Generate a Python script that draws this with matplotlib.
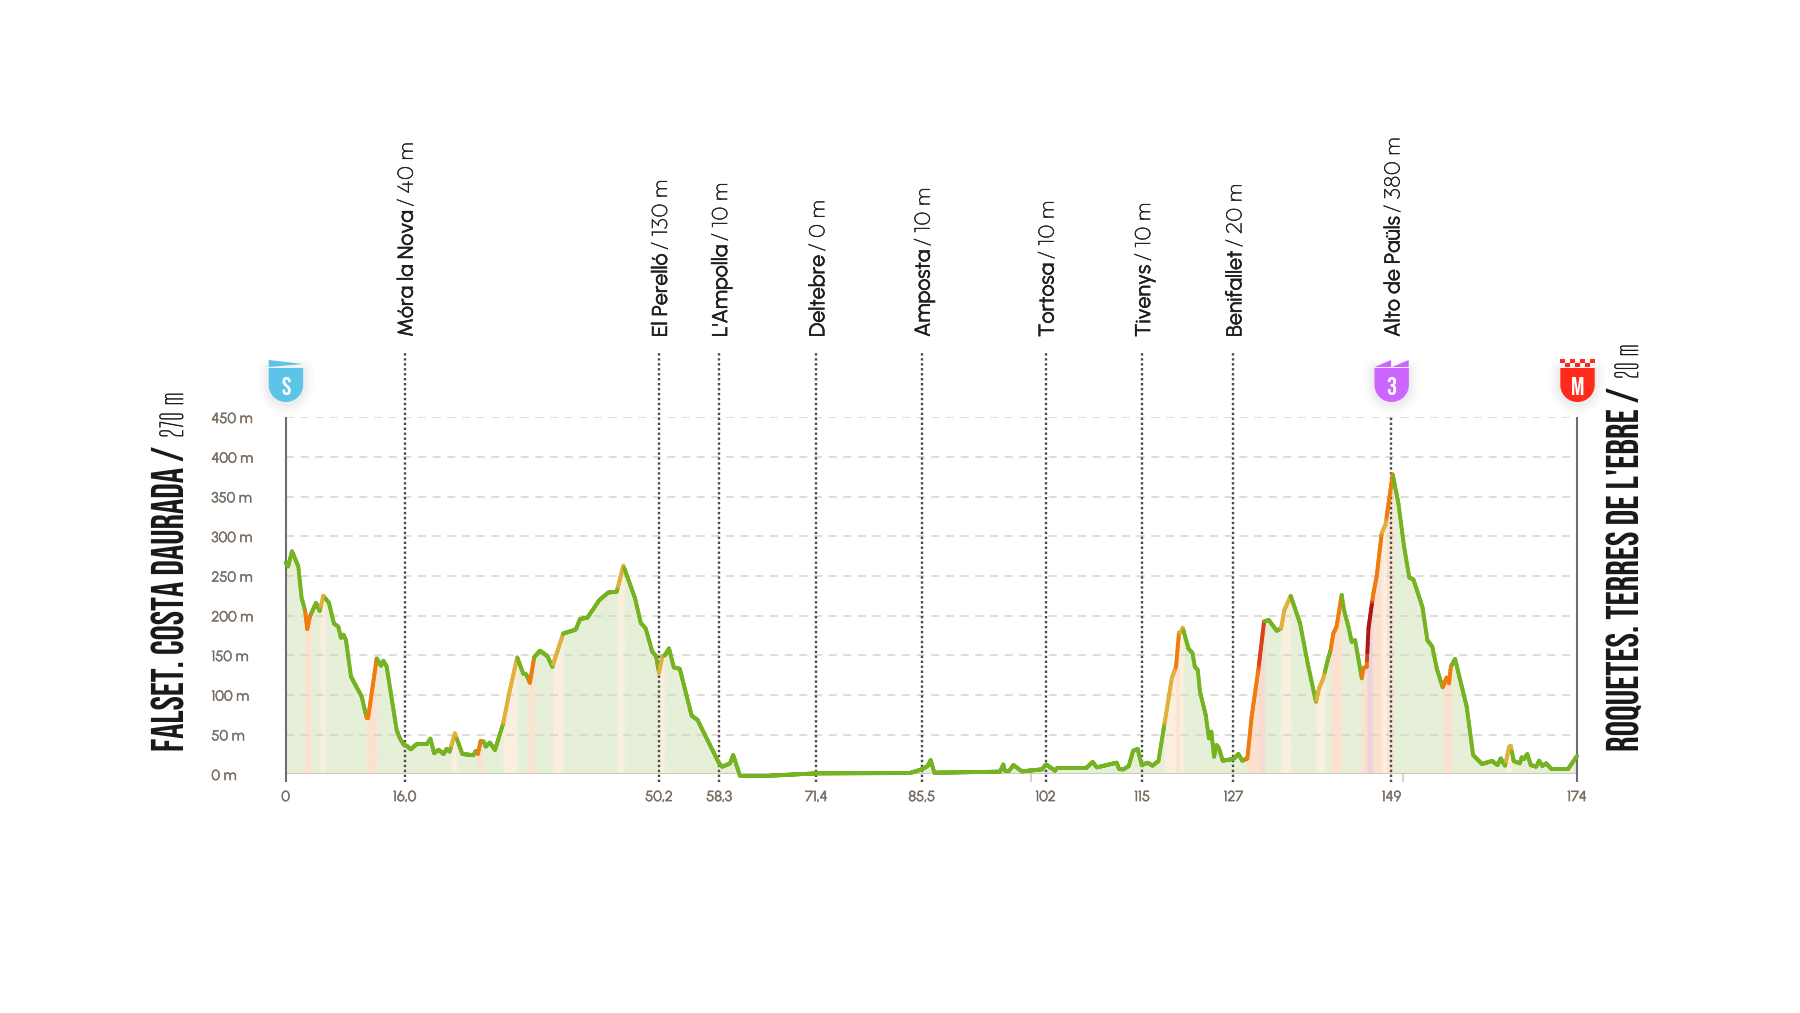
import numpy as np
import matplotlib
matplotlib.use('Agg')
import matplotlib.pyplot as plt
from matplotlib.collections import LineCollection
from matplotlib.colors import to_rgb
from matplotlib.patches import Polygon
from matplotlib.patheffects import AbstractPathEffect, withStroke
from matplotlib.transforms import Affine2D

# profile, km and metres
km = [0, .31, .85, 1.7, 2.15, 2.6, 2.91, 3.27, 4.08, 4.58, 5.07, 5.83, 6.5, 7.09, 7.45, 7.77, 8.12, 8.8, 10.24, 10.91,
      11.1, 12.26, 12.84, 13.16, 13.6, 14.95, 15.4, 15.94, 16.3, 16.84, 17.65, 19, 19.5, 20, 20.6, 21.25, 21.7, 22.1,
      22.8, 23.8, 25.3, 25.6, 25.9, 26.27, 26.7, 26.95, 27.5, 28.2, 29.3, 30.2, 31.2, 32, 32.4, 32.9, 33.5, 34.27,
      35.26, 35.93, 37.4, 38.5, 39.1, 39.66, 40.65, 42.27, 43.5, 44.6, 45.5, 47.07, 47.84, 48.5, 49.4, 49.9, 50.3,
      50.76, 51.1, 51.65, 52.3, 53.1, 54.7, 55.5, 58.4, 58.84, 59.87, 60.3, 61.2, 65.3, 71.55, 84.1, 85.7, 86.5, 86.9,
      87.4, 96.25, 96.7, 96.9, 97.5, 98.05, 99.2, 101.9, 102.45, 103.66, 103.9, 107.84, 108.74, 109.3, 111.97, 112.3,
      112.87, 113.6, 114.2, 114.8, 115.34, 116.15, 116.78, 117.6, 118.35, 119.4, 119.97, 120.37, 120.64, 120.87,
      121.63, 122.2, 122.5, 122.9, 123.2, 123.97, 124.4, 124.73, 125.1, 125.45, 125.76, 126.26, 127.7, 128.37, 128.9,
      129.58, 130.16, 131.06, 131.83, 132.46, 133.53, 134.12, 134.57, 135.42, 136.68, 137.8, 138.83, 139.24, 139.82,
      140.36, 140.8, 141.17, 141.6, 142.29, 142.6, 143.2, 143.64, 144.1, 145, 145.2, 145.66, 145.9, 146.56, 147,
      147.68, 148.2, 149.17, 149.93, 150.7, 151.4, 151.95, 153.17, 153.84, 154.5, 155.1, 155.9, 156.44, 156.76, 157,
      157.57, 159.14, 160, 161.2, 162.55, 163.28, 163.72, 164.3, 164.87, 165.08, 165.47, 166.3, 166.55, 166.87, 167.3,
      167.77, 168.5, 168.9, 169.34, 169.84, 170.6, 172.76, 174]
elev = [267, 262, 281, 262, 222, 207, 183, 199, 216, 206, 225, 216, 190, 186, 172, 176, 169, 123, 98, 71,
        71, 146, 137, 143, 136, 56, 45, 37, 36, 31.5, 38, 38, 45, 26.5, 31, 25.6, 32, 28.6,
        51.7, 25.6, 24, 29.4, 25.6, 42, 41, 35, 40, 30.6, 64, 106, 147.4, 127, 126, 115.4, 148, 155.8,
        149, 135.6, 177.6, 180.6, 182.7, 195.7, 197.4, 219.7, 229.3, 230, 263, 221.8, 191, 184, 154.5, 149, 128,
        149, 150, 158.7, 134.8, 133, 74, 68.4, 13.8, 9.6, 13.8, 24.3, -1.7, -1.7, 1.2, 1.6, 6.2, 10.4, 18,
        2, 3.3, 12.5, 4.5, 4.5, 11.7, 3.7, 6.2, 12.5, 4.5, 7.9, 7.9, 15.5, 8.7, 14.6, 6.6,
        6.2, 10.4, 29.8, 31.9, 11.7, 14.6, 10.9, 16.7, 60, 121, 135.7, 178.5, 179.4, 184.8,
        158.8, 152.5, 135.7, 131.5, 104, 74.7, 45.3, 53.7, 22.2, 36.9, 32.7, 17.2, 19.3, 25.6, 17.2,
        20, 72.6, 131.5, 192.4, 194.5, 181, 184, 207, 225, 190.3, 135.7, 91.5, 108.4, 121,
        142, 156.7, 177.7, 186, 226, 207, 186, 167, 169, 121, 133.6, 135.7, 184, 228, 249,
        303.7, 315, 378, 341.6, 287, 248, 245.7, 211, 169, 160.9, 133.6, 109.6, 122, 114.7, 135.7,
        145.3, 85, 24.3, 13, 16.8, 11.7, 20, 10.9, 34.9, 35.7, 16.8, 13.8, 21.4, 19.3, 25.6,
        11.7, 9.6, 17.2, 10.5, 13.8, 6.3, 6.3, 23]

# steep stretches: start km, end km, level
steep_start = [2.6, 4.7, 10.85, 22.3, 25.85, 29.3, 32.7, 36.0, 44.75, 50.25, 118.4, 119.9, 120.4, 129.4, 130.16, 131.06,
               134.1, 138.85, 140.8, 145.0, 145.66, 146.4, 147.7, 148.3, 155.9, 164.4]
steep_end = [3.4, 5.35, 12.26, 23.05, 26.6, 31.2, 33.45, 37.35, 45.6, 51.0, 119.9, 120.4, 120.95, 130.16, 131.06, 131.9,
             135.4, 140.0, 142.25, 145.66, 146.4, 147.7, 148.3, 149.17, 157.1, 165.2]
steep_level = [2, 1, 2, 1, 2, 1, 2, 1, 1, 1, 1, 2, 1, 2, 2, 3,
               1, 1, 2, 2, 4, 2, 1, 2, 2, 1]

line_colors = ['#76B322', '#E2B03C', '#F07C10', '#D8401A', '#AE1616']
fill_colors = ['#E6F0D8', '#FBF0DF', '#FCE2D0', '#F7DAD2', '#EBD2DC']

# checkpoints
mark_km = [0, 16.04, 50.3, 58.4, 71.5, 85.7, 102.4, 115.4, 127.7, 149.0, 174]
mark_labels = ['0', '16,0', '50,2', '58,3', '71,4', '85,5', '102', '115', '127', '149', '174']
place_km = [16.04, 50.3, 58.4, 71.5, 85.7, 102.4, 115.4, 127.7, 149.0]
place_names = ['Móra la Nova', 'El Perelló', "L'Ampolla", 'Deltebre', 'Amposta', 'Tortosa', 'Tivenys', 'Benifallet',
               'Alto de Paüls']
place_alts = ['40 m', '130 m', '10 m', '0 m', '10 m', '10 m', '10 m', '20 m', '380 m']
y_ticks = [0, 50, 100, 150, 200, 250, 300, 350, 400, 450]
small_ticks = [100.4, 150.6]

title_font = ['Bebas Neue', 'Liberation Sans Narrow', 'DejaVu Sans']
thin_font = ['Big Shoulders Display', 'Antonio', 'Liberation Sans Narrow', 'DejaVu Sans']
tick_font = ['Urbanist', 'Lato', 'DejaVu Sans']
name_font = ['Urbanist', 'Inter', 'DejaVu Sans']
alt_font = ['Outfit', 'Lato', 'DejaVu Sans']
tick_color = '#7A6E63'


class Tall(AbstractPathEffect):
    # rotated text set small enough to fit its length, then made taller from the baseline
    def __init__(self, x0, factor, stroke=0):
        super().__init__()
        self.x0 = x0
        self.factor = factor
        self.stroke = stroke

    def draw_path(self, renderer, gc, tpath, affine, rgbFace=None):
        tall = Affine2D().translate(-self.x0, 0).scale(self.factor, 1).translate(self.x0, 0)
        gc0 = renderer.new_gc()
        gc0.copy_properties(gc)
        if self.stroke:
            gc0.set_linewidth(self.stroke)
            gc0.set_foreground(rgbFace)
        renderer.draw_path(gc0, tpath, affine + tall, rgbFace)
        gc0.restore()


W, H = 1800, 1013
fig = plt.figure(figsize=(18, 10.13), dpi=100, facecolor='white')

# whole figure in pixels for the badges and titles
bg = fig.add_axes([0, 0, 1, 1])
bg.set_xlim(0, W)
bg.set_ylim(H, 0)
bg.axis('off')

x0, x1, y0, y1 = 285.7, 1577, 774.3, 417.3
ax = fig.add_axes([x0 / W, (H - y0) / H, (x1 - x0) / W, (y0 - y1) / H])
ax.patch.set_alpha(0)
for s in ax.spines.values():
    s.set_visible(False)

km_arr = np.array(km, dtype=float)
elev_arr = np.array(elev, dtype=float)

# colour per small step along the road, softened so the bands run into each other
grid = np.union1d(np.arange(0, 174.01, 0.05), km_arr)
levels = np.zeros(len(grid), dtype=int)
for a, b, lv in zip(steep_start, steep_end, steep_level):
    levels[(grid >= a) & (grid < b)] = lv


def soft_colors(palette, width):
    rgb = np.array([to_rgb(palette[i]) for i in levels])
    even = np.arange(0, 174.01, 0.05)
    out = np.zeros_like(rgb)
    for c in range(3):
        col = np.interp(even, grid, rgb[:, c])
        n = max(int(width / 0.05), 1)
        col = np.convolve(np.pad(col, n, mode='edge'), np.ones(n) / n, mode='same')[n:-n]
        out[:, c] = np.interp(grid, even, col)
    return out


fill_rgb = soft_colors(fill_colors, 0.45)
even = np.arange(0, 174.01, 0.05)
img = np.stack([np.interp(even, grid, fill_rgb[:, c]) for c in range(3)], axis=1)[None, :, :]
im = ax.imshow(img, extent=[0, 174, 0, 450], aspect='auto', zorder=1, interpolation='bilinear')
poly = Polygon(np.column_stack([np.r_[0, km_arr, 174], np.r_[0, np.clip(elev_arr, 0, None), 0]]),
               closed=True, transform=ax.transData)
im.set_clip_path(poly)

# grid
ax.hlines(y_ticks[1:], 0, 174, color='#D8D2C8', lw=1.1, linestyles=[(0, (5.2, 4.4))], zorder=2)
ax.hlines(0, 0, 174, color='#CFC9BE', lw=1.5, zorder=2)

# axes lines and checkpoints
ax.vlines(0, -10, 450, color='#6E6E6E', lw=1.5, clip_on=False, zorder=3)
ax.vlines(174, -10, 450, color='#6E6E6E', lw=1.5, clip_on=False, zorder=3)
ax.vlines(small_ticks, -10, 0, color='#CFC9BE', lw=1.2, clip_on=False, zorder=2)
for m in place_km:
    ax.plot([m, m], [-10, 450 if m == 149.0 else 532], color='#4A4A4A', lw=1.7, linestyle=(0, (1.0, 1.1)),
            clip_on=False, zorder=5)

# profile line
line_rgb = soft_colors(line_colors, 0.15)
gy = np.interp(grid, km_arr, elev_arr)
pts = np.column_stack([grid, gy])
segs = np.stack([pts[:-1], pts[1:]], axis=1)
ax.add_collection(LineCollection(segs, colors=line_rgb[:-1], lw=2.8, capstyle='round', zorder=6, clip_on=False))

ax.set_xlim(0, 174)
ax.set_ylim(0, 450)
ax.set_xticks(mark_km, mark_labels)
ax.set_yticks(y_ticks, [f'{v} m' for v in y_ticks])
ax.tick_params(axis='both', length=0, colors=tick_color, labelsize=10.5)
ax.tick_params(axis='x', pad=11)
ax.tick_params(axis='y', pad=53.5)
for t in ax.get_xticklabels() + ax.get_yticklabels():
    t.set_family(tick_font)
    t.set_path_effects([withStroke(linewidth=.3, foreground=tick_color)])
for t in ax.get_yticklabels():
    t.set_ha('left')

renderer = fig.canvas.get_renderer()


# place labels, name first, then the height on top of it
for m, name, alt in zip(place_km, place_names, place_alts):
    px = ax.transData.transform((m, 0))[0] + 8
    t = bg.text(px, 337, name, rotation=90, rotation_mode='anchor', ha='left', va='baseline', family=name_font,
                fontsize=15.4, color='#1E1E1E',
                path_effects=[withStroke(linewidth=.35, foreground='#1E1E1E')])
    bb = t.get_window_extent(renderer)
    bg.text(px, H - bb.y1 - 4, '/ ' + alt, rotation=90, rotation_mode='anchor', ha='left', va='baseline',
            family=alt_font, fontsize=16, color='#222222',
            path_effects=[withStroke(linewidth=.35, foreground='#222222')])


def fit_text(x, y, s, family, size, length, color, stroke=0):
    t = bg.text(x, y, s, rotation=90, rotation_mode='anchor', ha='left', va='baseline', family=family,
                fontsize=size, color=color)
    ratio = length / t.get_window_extent(renderer).height
    t.set_fontsize(size * ratio)
    t.set_path_effects([Tall(x, 1 / ratio, stroke)])


def big_title(x, y_bottom, title, alt, title_len, alt_len):
    fit_text(x, y_bottom, title, title_font, 33, title_len, '#1A1A1A')
    fit_text(x, y_bottom - title_len - 9, alt, thin_font, 21, alt_len, '#1A1A1A', stroke=.45)


big_title(183, 752, 'FALSET. COSTA DAURADA /', '270 m', 305, 46)
big_title(1638, 752, "ROQUETES. TERRES DE L'EBRE /", '20 m', 364, 35)


def shield(xc, top=368, bottom=402, half=17.2):
    ang = np.linspace(0, np.pi, 30)
    rx, ry = half, 17
    xs = np.r_[xc - half, xc + half, xc + rx * np.cos(ang)]
    ys = np.r_[top, top, bottom - ry + ry * np.sin(ang)]
    return np.column_stack([xs, ys])


def draw_badge(xc, color, letter):
    body = shield(xc)
    for w, a in zip([22, 16, 10, 5], [.012, .015, .02, .025]):
        bg.add_patch(Polygon(body + [0, 2], closed=True, facecolor='none', edgecolor='black', lw=w * .72, alpha=a,
                             joinstyle='round', zorder=7))
    bg.add_patch(Polygon(body, closed=True, facecolor=color, edgecolor='none', zorder=8))
    bg.text(xc, 385.5, letter, color='white', family=title_font, fontsize=18, ha='center', va='center', zorder=10)


start_x = ax.transData.transform((0, 0))[0]
top_x = ax.transData.transform((149.0, 0))[0]
end_x = ax.transData.transform((174, 0))[0]

draw_badge(start_x + .2, '#5BC4E8', 'S')
bg.add_patch(Polygon([[start_x - 17, 360], [start_x + 17.5, 364], [start_x - 17, 367]], closed=True,
                     facecolor='#5BC4E8', edgecolor='none', zorder=8))

draw_badge(top_x + .2, '#CC66FF', '3')
for dx in (-17, 0.6):
    bg.add_patch(Polygon([[top_x + dx, 367], [top_x + dx + 16.6, 360], [top_x + dx + 16.6, 367]], closed=True,
                         facecolor='#CC66FF', edgecolor='none', zorder=8))

mx = end_x + .5
draw_badge(mx, '#FF2A1A', 'M')
for i in range(7):
    for j in range(2):
        if (i + j) % 2 == 0:
            bg.add_patch(Polygon([[mx - 17.2 + i * 4.91, 359 + j * 4], [mx - 17.2 + (i + 1) * 4.91, 359 + j * 4],
                                  [mx - 17.2 + (i + 1) * 4.91, 363 + j * 4], [mx - 17.2 + i * 4.91, 363 + j * 4]],
                                 closed=True, facecolor='#FF2A1A', edgecolor='none', zorder=8))

fig.savefig('out.png', dpi=100, facecolor='white')
